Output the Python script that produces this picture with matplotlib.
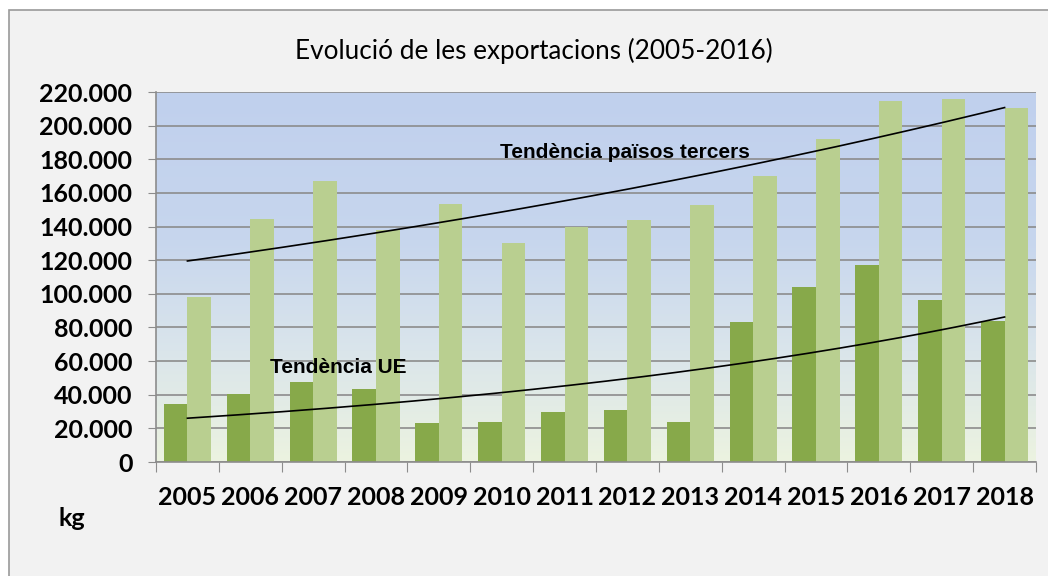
import numpy as np
import matplotlib
matplotlib.use('Agg')
import matplotlib.pyplot as plt
from matplotlib.patches import Rectangle
from matplotlib.colors import LinearSegmentedColormap

# Dades (kg)
anys = ['2005', '2006', '2007', '2008', '2009', '2010', '2011',
        '2012', '2013', '2014', '2015', '2016', '2017', '2018']
ue = [34500, 40300, 47800, 43300, 23000, 24000, 29600,
      30800, 24000, 83200, 104300, 117300, 96600, 84100]
tercers = [98400, 144600, 167300, 138100, 153600, 130500, 139500,
           143600, 153000, 170200, 192000, 214500, 216000, 210300]
yticks = list(range(0, 220001, 20000))

titol = 'Evolució de les exportacions (2005-2016)'
etiqueta_tercers = 'Tendència països tercers'
etiqueta_ue = 'Tendència UE'

plt.rcParams['font.family'] = ['Lato', 'DejaVu Sans']

fig = plt.figure(figsize=(10.48, 5.76), dpi=100)
fig.patch.set_facecolor('white')
fig.patches.append(Rectangle((9 / 1048, -0.05), 1.1, 1.05 - 10 / 576,
                             transform=fig.transFigure, facecolor='#f2f2f2',
                             edgecolor='#9a9a9a', linewidth=1.2, zorder=-1))

ax = fig.add_axes([156 / 1048, 114 / 576, 880 / 1048, 370 / 576])
ax.set_facecolor('none')
ax.set_zorder(1)

x = np.arange(len(anys))
w = 0.375

# fons amb degradat
cmap = LinearSegmentedColormap.from_list(
    'fons', [(0.0, '#ecf3e0'), (0.3, '#dae5eb'), (0.6, '#c7d6ee'), (1.0, '#c0d0ed')])
grad = np.linspace(0, 1, 256).reshape(-1, 1)
ax.imshow(grad, extent=(-0.5, 13.5, 0, 220000), origin='lower', cmap=cmap,
          aspect='auto', zorder=0)

ax.bar(x - w / 2, ue, width=w, color='#87a94a', zorder=2)
ax.bar(x + w / 2, tercers, width=w, color='#b9cf90', zorder=2)

# línies de tendència exponencials
for serie in (tercers, ue):
    b, a = np.polyfit(x, np.log(serie), 1)
    xs = np.linspace(x[0], x[-1], 200)
    ax.plot(xs, np.exp(a + b * xs), color='black', linewidth=1.2, zorder=3)

ax.text(4.98, 183900, etiqueta_tercers, family='Liberation Sans', fontweight='bold',
        fontsize=15, va='center', ha='left', zorder=4)
ax.text(1.32, 55950, etiqueta_ue, family='Liberation Sans', fontweight='bold',
        fontsize=15, va='center', ha='left', zorder=4)

ax.set_xlim(-0.5, 13.5)
ax.set_ylim(0, 220000)
ax.set_yticks(yticks)
ax.set_yticklabels(['{:,.0f}'.format(v).replace(',', '.') for v in yticks],
                   fontweight='bold', fontsize=18)
ax.yaxis.grid(True, color='#8c8c8c', linewidth=1.2)
ax.set_axisbelow(True)

ax.set_xticks(np.arange(-0.5, 14, 1))
ax.set_xticklabels([])
ax.set_xticks(x, minor=True)
ax.set_xticklabels(anys, minor=True, fontweight='bold', fontsize=18)
ax.tick_params(axis='x', which='major', length=7, color='#8c8c8c')
ax.tick_params(axis='x', which='minor', length=0, pad=17)
ax.tick_params(axis='y', length=6, color='#8c8c8c', pad=11)

for s in ('top', 'right'):
    ax.spines[s].set_visible(False)
for s in ('left', 'bottom'):
    ax.spines[s].set_color('#8c8c8c')
    ax.spines[s].set_linewidth(1.2)

fig.text(534 / 1048, 1 - 51 / 576, titol, ha='center', va='center', fontsize=18.8)
fig.text(58 / 1048, 1 - 518 / 576, 'kg', ha='left', va='center',
         fontsize=18, fontweight='bold')

fig.savefig('out.png', dpi=100)
